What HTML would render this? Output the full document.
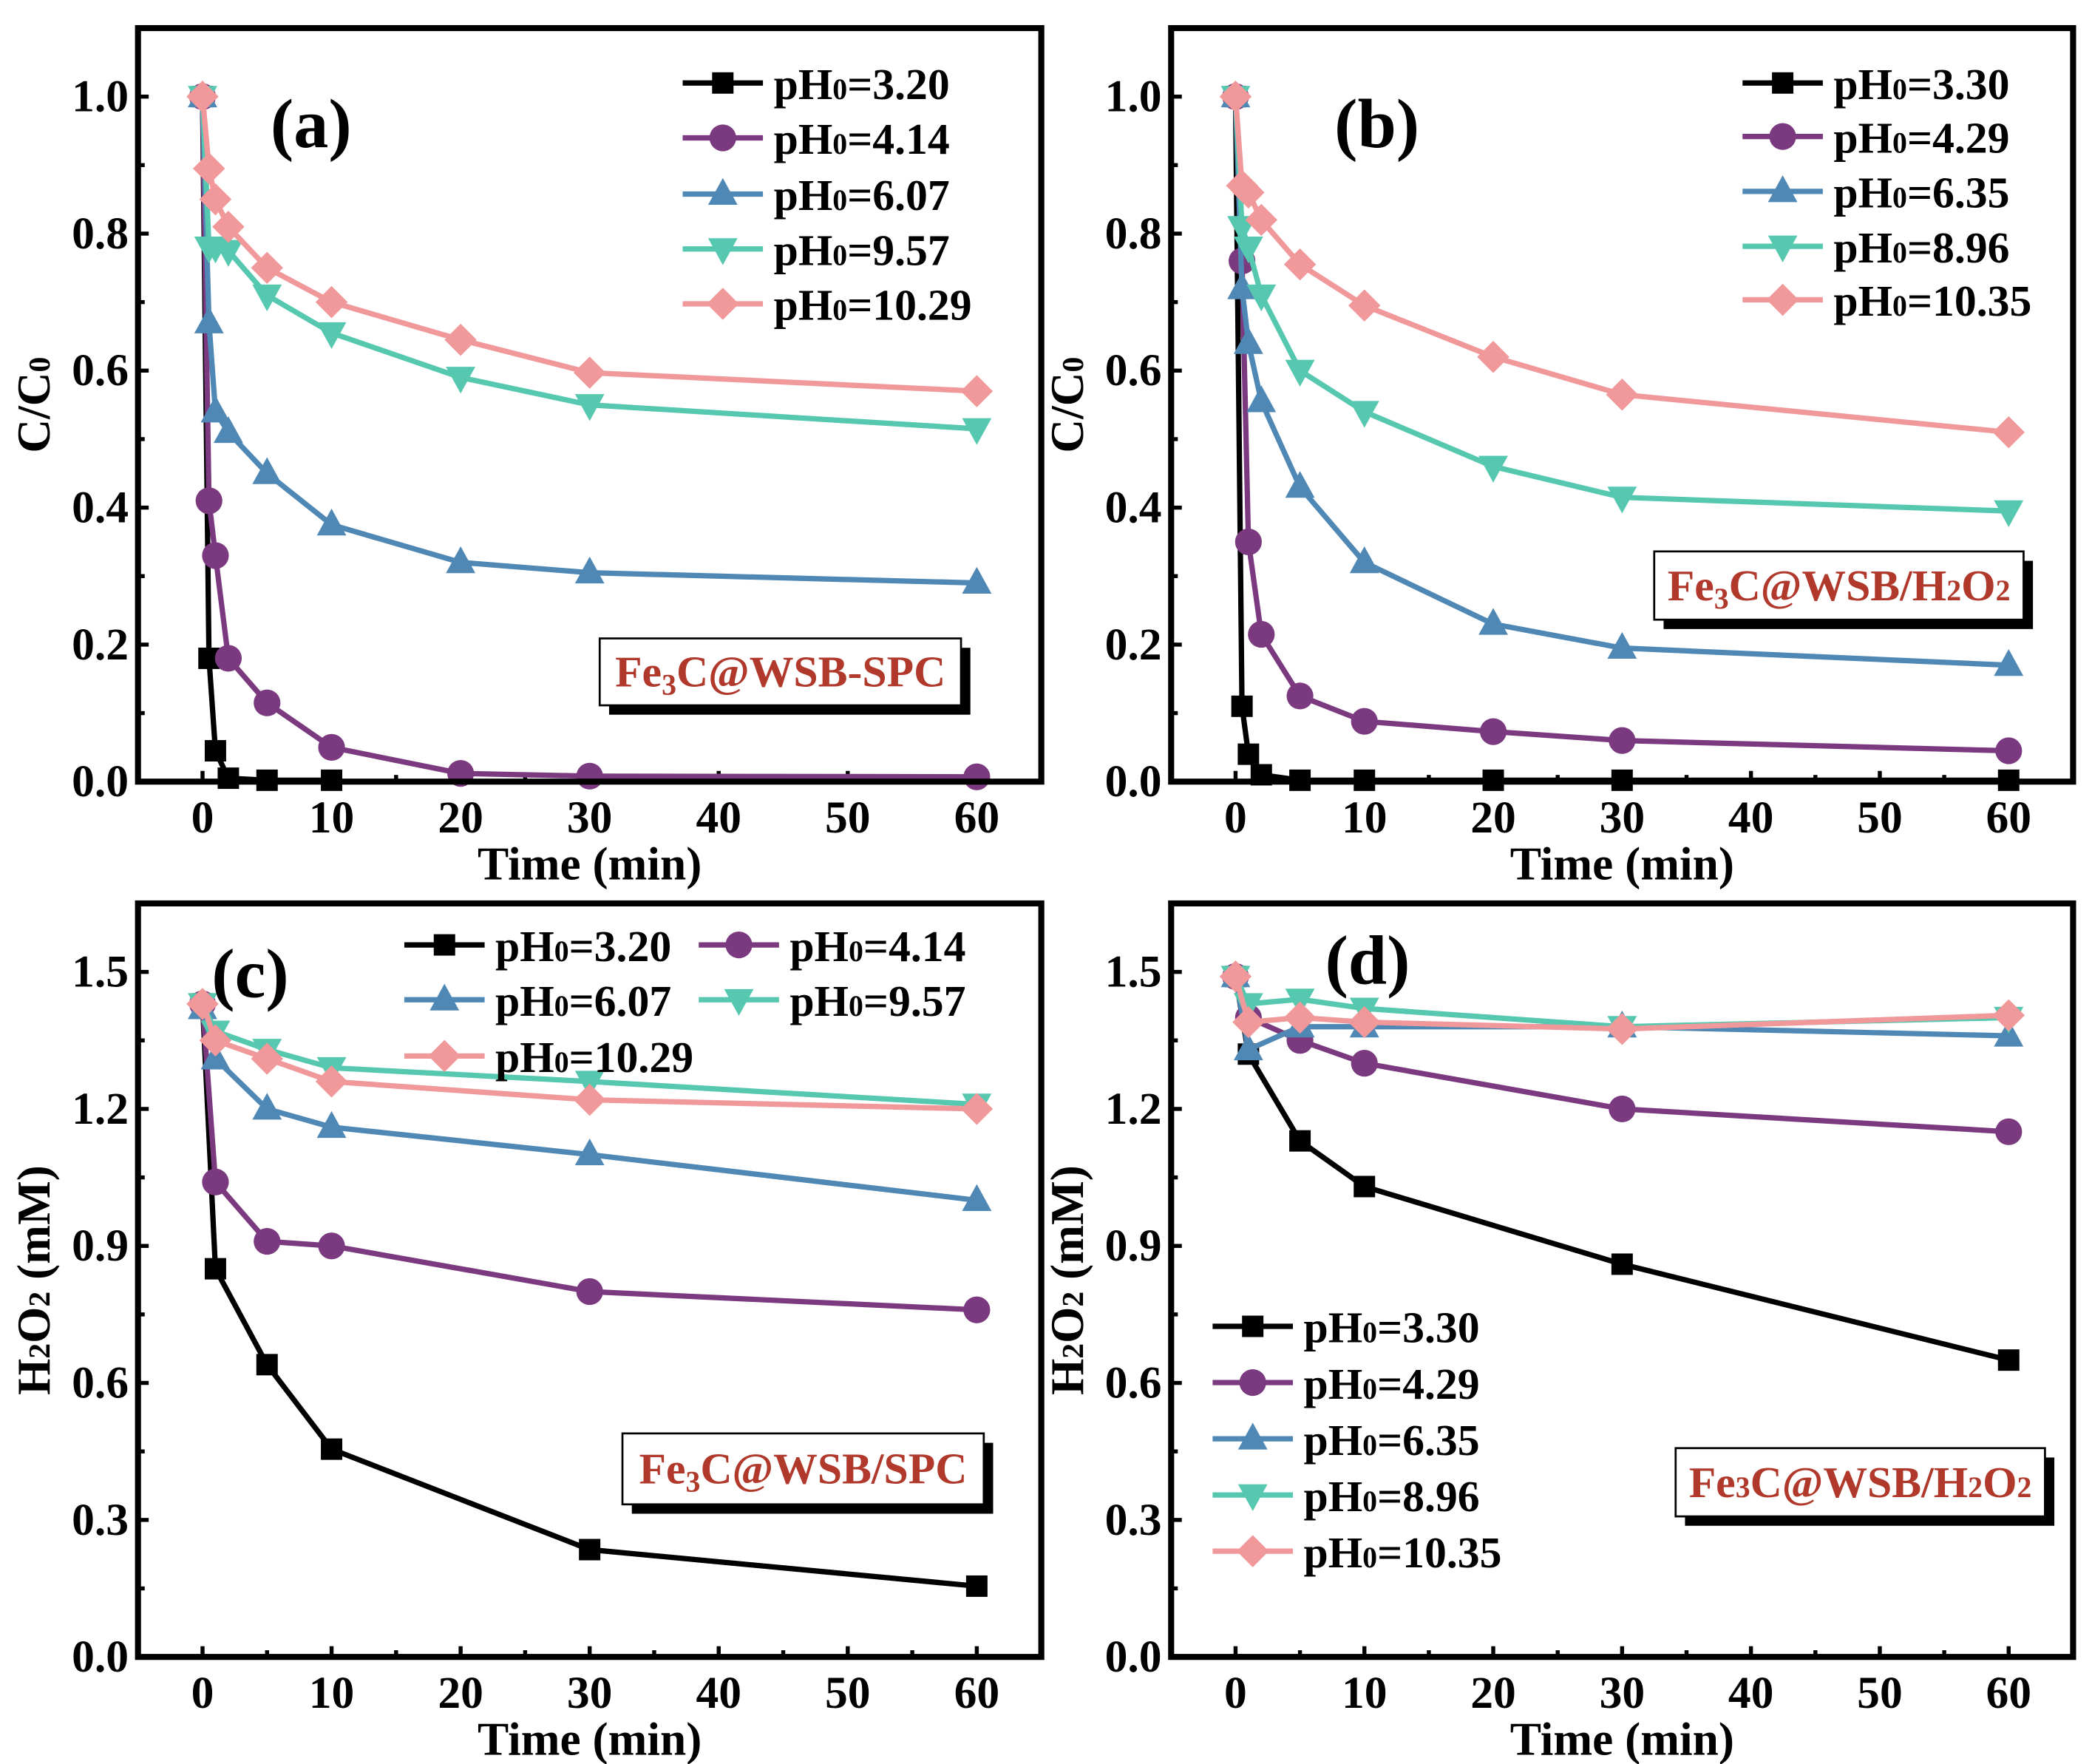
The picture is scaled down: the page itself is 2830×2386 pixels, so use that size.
<!DOCTYPE html>
<html><head><meta charset="utf-8"><style>
html,body{margin:0;padding:0;background:#fff}
svg{display:block}
text{font-family:"Liberation Serif",serif;font-weight:bold}
</style></head><body>
<svg id="fig" width="2830" height="2386" viewBox="0 0 1563 1318" xmlns="http://www.w3.org/2000/svg"></svg>
<script>
// ---- data ----
const tA = [0,0.5,1,2,5,10,20,30,60];
const a1 = [1.0,0.18,0.045,0.005,0.002,0.002];
const a2 = [1.0,0.41,0.33,0.18,0.115,0.05,0.012,0.008,0.007];
const a3 = [1.0,0.67,0.54,0.51,0.45,0.375,0.32,0.305,0.29];
const a4 = [1.0,0.78,0.78,0.775,0.71,0.655,0.59,0.55,0.515];
const a5 = [1.0,0.895,0.85,0.81,0.75,0.70,0.645,0.597,0.57];
const b1 = [1.0,0.11,0.04,0.01,0.002,0.002,0.002,0.002,0.002];
const b2 = [1.0,0.76,0.35,0.215,0.125,0.088,0.073,0.06,0.045];
const b3 = [1.0,0.72,0.64,0.555,0.43,0.32,0.23,0.195,0.17];
const b4 = [1.0,0.81,0.78,0.71,0.60,0.54,0.46,0.415,0.395];
const b5 = [1.0,0.87,0.86,0.82,0.755,0.695,0.62,0.565,0.51];
const tC = [0,1,5,10,30,60];
const c1 = [1.43,0.85,0.64,0.455,0.235,0.155];
const c2 = [1.43,1.04,0.91,0.90,0.80,0.76];
const c3 = [1.42,1.31,1.20,1.16,1.10,1.00];
const c4 = [1.43,1.37,1.33,1.29,1.26,1.21];
const c5 = [1.43,1.35,1.31,1.26,1.22,1.20];
const d1 = [1.49,1.32,1.13,1.03,0.86,0.65];
const d2 = [1.49,1.40,1.35,1.30,1.20,1.15];
const d3 = [1.49,1.33,1.38,1.38,1.38,1.36];
const d4 = [1.49,1.43,1.44,1.42,1.38,1.40];
const d5 = [1.49,1.39,1.40,1.39,1.375,1.405];
const xTicks = [0,10,20,30,40,50,60];
const yTicksCC = ["0.0","0.2","0.4","0.6","0.8","1.0"];
const yTicksH = ["0.0","0.3","0.6","0.9","1.2","1.5"];
const legA = ["3.20","4.14","6.07","9.57","10.29"];
const legB = ["3.30","4.29","6.35","8.96","10.35"];
const colors = ["#000000","#7b3a7f","#4f88b5","#57c8b0","#f0989a"];
const shapes = ["square","circle","up","down","diamond"];

const NS="http://www.w3.org/2000/svg";
const svg=document.getElementById('fig');
function el(tag,attrs,parent){const e=document.createElementNS(NS,tag);for(const k in attrs)e.setAttribute(k,attrs[k]);(parent||svg).appendChild(e);return e;}
function marker(g,shape,x,y,c){
  let m;
  if(shape==="square") m=el('rect',{x:x-8,y:y-8,width:16,height:16,fill:c},g);
  else if(shape==="circle") m=el('circle',{cx:x,cy:y,r:10,fill:c},g);
  else if(shape==="up") m=el('polygon',{points:`${x},${y-12} ${x+11},${y+8} ${x-11},${y+8}`,fill:c},g);
  else if(shape==="down") m=el('polygon',{points:`${x},${y+12} ${x+11},${y-8} ${x-11},${y-8}`,fill:c},g);
  else m=el('polygon',{points:`${x},${y-12} ${x+12},${y} ${x},${y+12} ${x-12},${y}`,fill:c},g);
  return m;
}
function panel(o){
  const g=el('g',{});
  
  
  const X=v=>o.x0+(v-(-5))/(70)*(o.x1-o.x0);
  const Y=v=>o.y1-(v/o.ymax)*(o.y1-o.y0);
  const step=parseFloat(o.yt[1])-parseFloat(o.yt[0]);
  xTicks.forEach((t,i)=>{
    const tk=el('line',{x1:X(t),x2:X(t),y1:o.y1,y2:o.y1-8,stroke:'#000','stroke-width':3},g);
    
    if(i<xTicks.length-1){el('line',{x1:X(t+5),x2:X(t+5),y1:o.y1,y2:o.y1-5,stroke:'#000','stroke-width':3},g);}
    const lb=el('text',{x:X(t),y:o.y1+38,'font-size':34,'text-anchor':'middle'},g);lb.textContent=t;
    
  });
  o.yt.forEach((s,i)=>{
    const v=parseFloat(s);
    el('line',{x1:o.x0,x2:o.x0+8,y1:Y(v),y2:Y(v),stroke:'#000','stroke-width':3},g);
    if(i<o.yt.length-1){el('line',{x1:o.x0,x2:o.x0+5,y1:Y(v+step/2),y2:Y(v+step/2),stroke:'#000','stroke-width':3},g);}
    const lb=el('text',{x:o.x0-7,y:Y(v)+11,'font-size':34,'text-anchor':'end'},g);lb.textContent=s;
    
  });
  o.series.forEach((s,i)=>{
    const sg=el('g',{},g);
    
    
    const pts=s.map((v,j)=>X(o.t[j])+','+Y(v)).join(' ');
    el('polyline',{points:pts,fill:'none',stroke:colors[i],'stroke-width':4},sg);
    s.forEach((v,j)=>{const m=marker(sg,shapes[i],X(o.t[j]),Y(v),colors[i]);
      });
  });
  const fr=el('rect',{x:o.x0,y:o.y0,width:o.x1-o.x0,height:o.y1-o.y0,fill:'none',stroke:'#000','stroke-width':4.5},g);
  
  const xt=el('text',{x:(o.x0+o.x1)/2,y:o.y1+73,'font-size':35,'text-anchor':'middle'},g);xt.textContent='Time (min)';
  
  const yt=el('text',{x:0,y:0,'font-size':35,'text-anchor':'middle',transform:`translate(${o.x0-66},${(o.y0+o.y1)/2}) rotate(-90)`},g);
  yt.innerHTML=o.ytitle;
  
  const pl=el('text',{x:o.lab[0],y:o.lab[1],'font-size':52},g);pl.textContent=o.label;
  
  o.legPos.forEach((p,i)=>{
    const lg=el('g',{},g);
    
    el('line',{x1:p[0],x2:p[0]+60,y1:p[1],y2:p[1],stroke:colors[i],'stroke-width':4},lg);
    marker(lg,shapes[i],p[0]+30,p[1],colors[i]);
    const t=el('text',{x:p[0]+68,y:p[1]+12,'font-size':33},lg);
    t.innerHTML='pH<tspan font-size="22">0</tspan>='+o.leg[i];
  });
  const b=o.box;
  const ag=el('g',{},g);
  
  el('rect',{x:b[0]+7,y:b[1]+7,width:b[2],height:b[3],fill:'#000'},ag);
  el('rect',{x:b[0],y:b[1],width:b[2],height:b[3],fill:'#fff',stroke:'#000','stroke-width':1.5},ag);
  const at=el('text',{x:b[0]+b[2]/2,y:b[1]+b[3]/2+11,'font-size':33,'text-anchor':'middle',fill:'#b0392c'},ag);
  at.innerHTML=o.boxText;
}
const ccTitle='C/C<tspan font-size="23">0</tspan>';
const hTitle='H<tspan font-size="23">2</tspan>O<tspan font-size="23">2</tspan> (mM)';
panel({name:'panel-a',x0:103,x1:778,y0:21,y1:584,ymax:1.1,t:tA,series:[a1,a2,a3,a4,a5],leg:legA,yt:yTicksCC,ytitle:ccTitle,
  label:'(a)',lab:[202,110],legPos:[[510,62],[510,103],[510,145],[510,186],[510,227]],
  box:[448,477,270,50],boxText:'Fe<tspan font-size="22" dy="6">3</tspan><tspan dy="-6">C@WSB-SPC</tspan>'});
panel({name:'panel-b',x0:875,x1:1549,y0:21,y1:584,ymax:1.1,t:tA,series:[b1,b2,b3,b4,b5],leg:legB,yt:yTicksCC,ytitle:ccTitle,
  label:'(b)',lab:[997,110],legPos:[[1302,62],[1302,102],[1302,143],[1302,184],[1302,224]],
  box:[1236,412,276,51],boxText:'Fe<tspan font-size="22" dy="6">3</tspan><tspan dy="-6">C@WSB/H</tspan><tspan font-size="22">2</tspan>O<tspan font-size="22">2</tspan>'});
panel({name:'panel-c',x0:103,x1:778,y0:675,y1:1238,ymax:1.65,t:tC,series:[c1,c2,c3,c4,c5],leg:legA,yt:yTicksH,ytitle:hTitle,
  label:'(c)',lab:[158,745],legPos:[[302,706],[522,706],[302,747],[522,747],[302,789]],
  box:[465,1071,270,53],boxText:'Fe<tspan font-size="22" dy="6">3</tspan><tspan dy="-6">C@WSB/SPC</tspan>'});
panel({name:'panel-d',x0:875,x1:1549,y0:675,y1:1238,ymax:1.65,t:tC,series:[d1,d2,d3,d4,d5],leg:legB,yt:yTicksH,ytitle:hTitle,
  label:'(d)',lab:[990,735],legPos:[[906,991],[906,1033],[906,1075],[906,1117],[906,1159]],
  box:[1252,1082,276,51],boxText:'Fe<tspan font-size="22">3</tspan>C@WSB/H<tspan font-size="22">2</tspan>O<tspan font-size="22">2</tspan>'});
</script>
</body></html>
